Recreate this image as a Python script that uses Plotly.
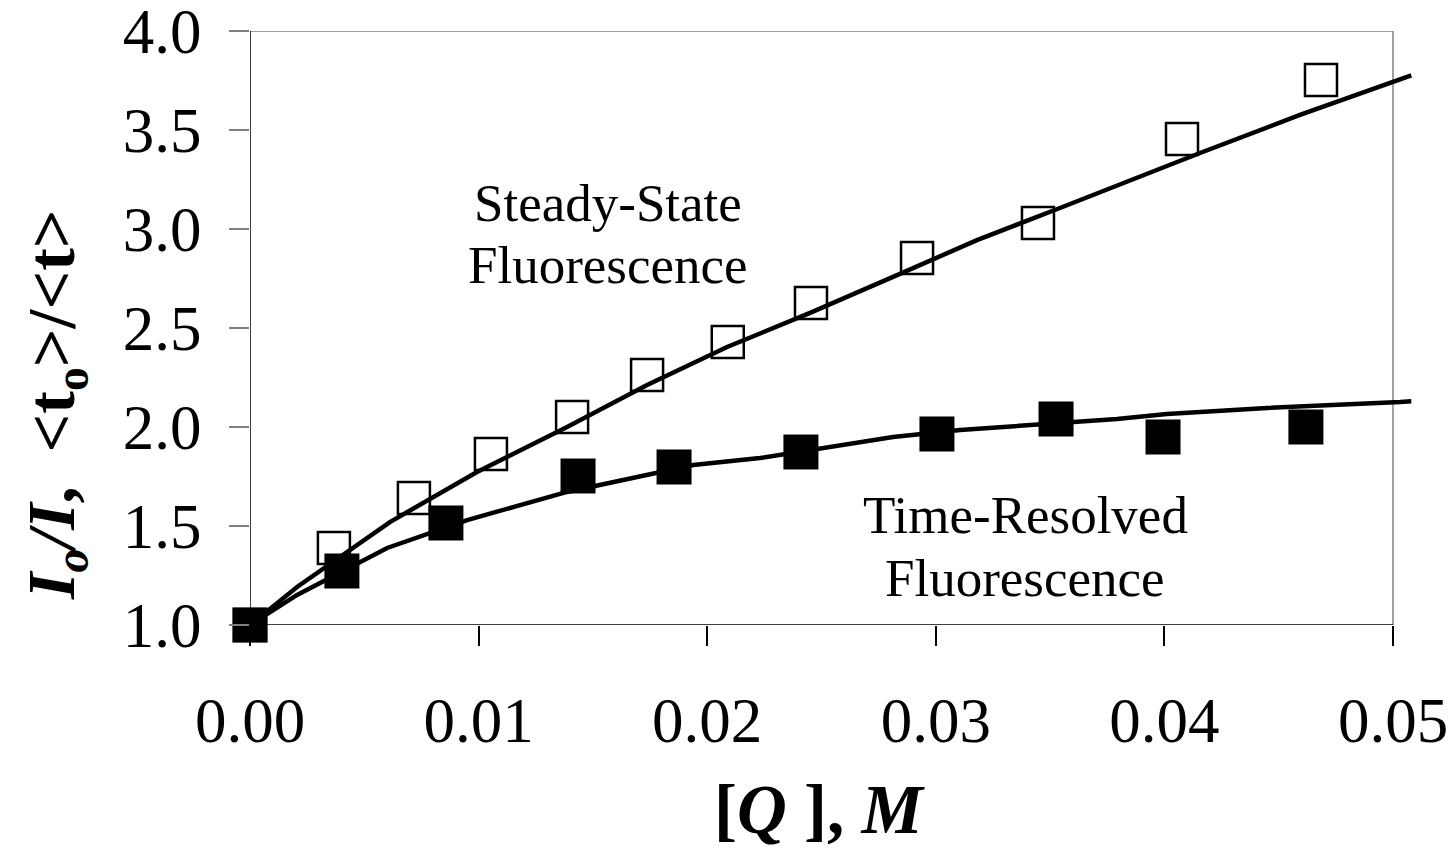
import plotly.graph_objects as go

# Measured data (open squares: steady-state, filled squares: time-resolved)
ss_x = [0.0, 0.00367, 0.00717, 0.01054, 0.01409, 0.01737, 0.0209, 0.02454, 0.02918, 0.03447, 0.04077, 0.04685]
ss_y = [1.0, 1.389, 1.641, 1.864, 2.05, 2.263, 2.429, 2.626, 2.854, 3.03, 3.455, 3.753]
tr_x = [0.0, 0.00402, 0.00857, 0.01435, 0.01855, 0.0241, 0.03005, 0.03526, 0.03994, 0.04619]
tr_y = [1.0, 1.273, 1.515, 1.753, 1.798, 1.874, 1.965, 2.04, 1.95, 2.0]

# Fitted curves
ss_fit_x = [0.0, 0.00206, 0.00612, 0.00993, 0.01387, 0.01737, 0.02087, 0.0245, 0.02813, 0.0318, 0.03543, 0.03718, 0.04156, 0.04593, 0.05031, 0.0508]
ss_fit_y = [1.0, 1.192, 1.52, 1.773, 2.0, 2.212, 2.404, 2.576, 2.758, 2.944, 3.106, 3.187, 3.384, 3.576, 3.753, 3.776]
tr_fit_x = [0.0, 0.00206, 0.006, 0.0095, 0.01387, 0.01939, 0.02231, 0.02524, 0.02813, 0.03106, 0.03543, 0.03792, 0.04011, 0.04449, 0.05031, 0.0508]
tr_fit_y = [1.0, 1.152, 1.389, 1.53, 1.672, 1.808, 1.843, 1.894, 1.949, 1.985, 2.02, 2.04, 2.066, 2.096, 2.126, 2.13]

x_ticks = [0.0, 0.01, 0.02, 0.03, 0.04, 0.05]
x_tick_text = ["0.00", "0.01", "0.02", "0.03", "0.04", "0.05"]
y_ticks = [1.0, 1.5, 2.0, 2.5, 3.0, 3.5, 4.0]
y_tick_text = ["1.0", "1.5", "2.0", "2.5", "3.0", "3.5", "4.0"]

FONT = "Liberation Serif, Times New Roman, serif"
X_MAX = 0.05
X_RANGE_MAX = 0.050875

fig = go.Figure()
fig.add_trace(go.Scatter(x=ss_fit_x, y=ss_fit_y, mode="lines",
                         line=dict(color="black", width=4.5), showlegend=False))
fig.add_trace(go.Scatter(x=tr_fit_x, y=tr_fit_y, mode="lines",
                         line=dict(color="black", width=4.5), showlegend=False))
fig.add_trace(go.Scatter(x=ss_x, y=ss_y, mode="markers", cliponaxis=False,
                         marker=dict(symbol="square-open", size=32, color="black",
                                     line=dict(width=2.5, color="black")),
                         showlegend=False))
fig.add_trace(go.Scatter(x=tr_x, y=tr_y, mode="markers", cliponaxis=False,
                         marker=dict(symbol="square", size=35, color="black",
                                     line=dict(width=0)),
                         showlegend=False))

# plot frame
fig.add_shape(type="line", xref="x", yref="y", x0=0, x1=X_MAX, y0=4, y1=4,
              line=dict(color="#808080", width=1.5), layer="below")
fig.add_shape(type="line", xref="x", yref="y", x0=X_MAX, x1=X_MAX, y0=1, y1=4,
              line=dict(color="#808080", width=1.5), layer="below")
fig.add_shape(type="line", xref="x", yref="y", x0=0, x1=X_MAX, y0=1, y1=1,
              line=dict(color="black", width=1.5), layer="below")
fig.add_shape(type="line", xref="x", yref="y", x0=0, x1=0, y0=1, y1=4,
              line=dict(color="black", width=1.5), layer="below")

fig.update_xaxes(range=[0, X_RANGE_MAX], tickvals=x_ticks, ticktext=x_tick_text,
                 ticks="outside", ticklen=20, tickwidth=1.5, tickcolor="black",
                 showline=False, showgrid=False, zeroline=False, automargin=False,
                 tickfont=dict(family=FONT, size=63, color="black"),
                 ticklabelstandoff=20, ticklabeloverflow="allow")
fig.update_yaxes(range=[1, 4], tickvals=y_ticks, ticktext=y_tick_text,
                 ticks="outside", ticklen=20, tickwidth=1.5, tickcolor="#808080",
                 showline=False, showgrid=False, zeroline=False, automargin=False,
                 tickfont=dict(family=FONT, size=63, color="black"),
                 ticklabelstandoff=15, ticklabeloverflow="allow")

L, R, T, B = 250, 1413, 31, 625
def px(xp):
    return (xp - L) / (R - L)
def py(yp):
    return (B - yp) / (B - T)

fig.add_annotation(text="<b><i>I<sub>o</sub>/I</i>,  &lt;t<sub>o</sub>&gt;/&lt;t&gt;</b>",
                   xref="paper", yref="paper", x=px(55), y=py(405),
                   xanchor="center", yanchor="middle", textangle=-90, showarrow=False,
                   font=dict(family=FONT, size=68, color="black"))
fig.add_annotation(text="<b>[<i>Q</i> ], <i>M</i></b>",
                   xref="paper", yref="paper", x=px(820), y=py(810),
                   xanchor="center", yanchor="middle", showarrow=False,
                   font=dict(family=FONT, size=69, color="black"))
label_lines = [("Steady-State", 608, 203), ("Fluorescence", 608, 265),
               ("Time-Resolved", 1025, 515), ("Fluorescence", 1025, 578)]
for txt, lx, ly in label_lines:
    fig.add_annotation(text=txt, xref="paper", yref="paper", x=px(lx), y=py(ly),
                       xanchor="center", yanchor="middle", showarrow=False,
                       font=dict(family=FONT, size=53, color="black"))

fig.update_layout(width=1452, height=853,
                  margin=dict(l=L, r=1452 - R, t=T, b=853 - B),
                  paper_bgcolor="white", plot_bgcolor="white",
                  showlegend=False)

fig.write_html("out.html", config={"displayModeBar": False},
               post_script="document.body.style.margin='0';document.body.style.overflow='hidden';")
